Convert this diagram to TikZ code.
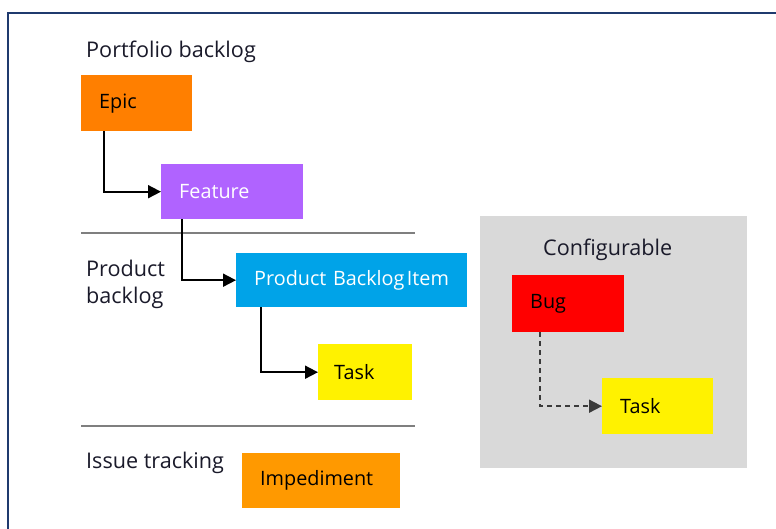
\documentclass[tikz,border=0pt]{standalone}
\usepackage{fontspec}
\setmainfont{Open Sans}
\usetikzlibrary{arrows.meta}

\definecolor{epicc}{HTML}{FF7F00}
\definecolor{featc}{HTML}{B063FF}
\definecolor{pbic}{HTML}{00A3E8}
\definecolor{taskc}{HTML}{FFF200}
\definecolor{bugc}{HTML}{FF0000}
\definecolor{impc}{HTML}{FF9900}
\definecolor{cfgc}{HTML}{D9D9D9}
\definecolor{rulec}{HTML}{7F7F7F}
\definecolor{framec}{HTML}{1F3A6E}
\definecolor{labelc}{HTML}{1A1A2A}
\definecolor{dashc}{HTML}{3A3A3A}

\begin{document}
\begin{tikzpicture}[x=1pt,y=-1pt,
  item/.style={rectangle, anchor=north west, inner xsep=18pt, inner ysep=0pt,
    align=left, font=\fontsize{19.8}{22}\selectfont},
  lbl/.style={anchor=west, inner sep=0pt, align=left, text=labelc,
    font=\fontsize{21.6}{27}\selectfont},
  link/.style={line width=1.8pt, -{Triangle[length=13pt,width=13pt]}},
  dlink/.style={link, draw=dashc, dash pattern=on 5pt off 4pt},
  sep/.style={draw=rulec, line width=1.6pt},
]
\useasboundingbox (0,0) rectangle (776,529);
\fill[white] (0,0) rectangle (776,529);

% outer frame
\draw[framec, line width=2.5pt] (8,529) -- (8,13) -- (776,13);

% section labels
\node[lbl] (lport) at (86,51.5) {Portfolio backlog};
\node[lbl] (lprod) at (86,284) {Product\\backlog};
\node[lbl] (lissue) at (86,462.5) {Issue tracking};

% section separators
\draw[sep] (81,233) -- (415,233);
\draw[sep] (81,426) -- (415,426);

% work items
\node[item, fill=epicc, text width=75pt, minimum height=56pt] (epic) at (81,75) {Epic};
\node[item, fill=featc, text=white, text width=106pt, minimum height=55pt] (feature) at (161,164) {Feature};
\node[item, fill=pbic, text=white, text width=195pt, minimum height=54pt] (pbi) at (236,253) {Product Backlog\hspace{0.12em}Item};
\node[item, fill=taskc, inner xsep=16pt, text width=62pt, minimum height=56pt] (task) at (318,344) {Task};
\node[item, fill=impc, text width=122pt, minimum height=55pt] (imp) at (242,453) {Impediment};

% configurable area
\node[fill=cfgc, anchor=north west, inner sep=0pt, minimum width=267pt, minimum height=252pt] (cfg) at (480,216) {};
\node[lbl] (lcfg) at (543,249.5) {Configurable};
\node[item, fill=bugc, text width=76pt, minimum height=57pt] (bug) at (512,275) {Bug};
\node[item, fill=taskc, text width=75pt, minimum height=56pt] (task2) at (602,378) {Task};

% hierarchy links
\draw[link] ([xshift=23pt]epic.south west) |- (feature.west);
\draw[link] ([xshift=21pt]feature.south west) |- (pbi.west);
\draw[link] ([xshift=25pt]pbi.south west) |- (task.west);
\draw[dlink] ([xshift=28pt]bug.south west) |- (task2.west);
\end{tikzpicture}
\end{document}
